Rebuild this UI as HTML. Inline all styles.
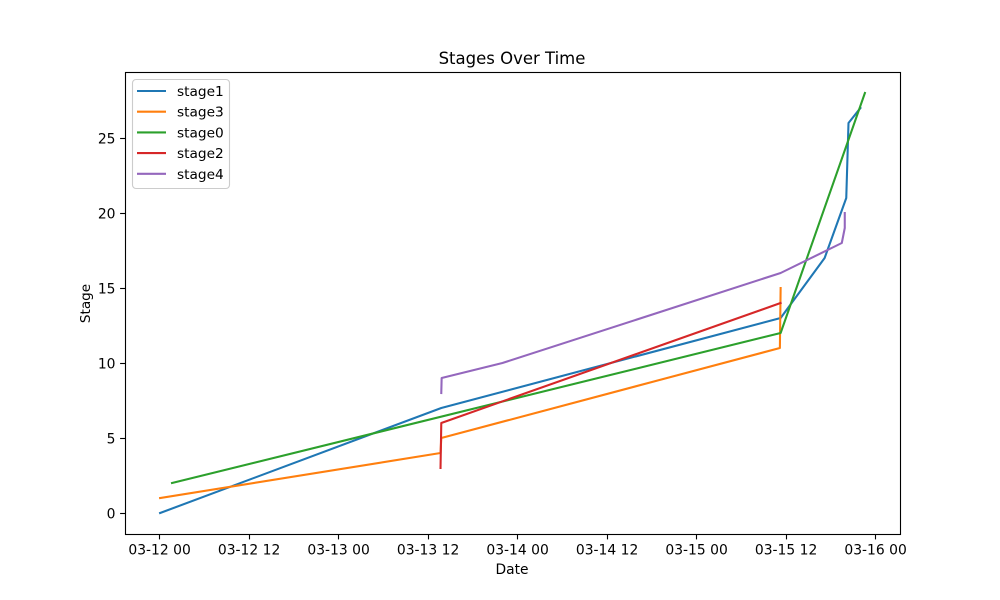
<!DOCTYPE html>
<html>
<head>
<meta charset="utf-8">
<title>Stages Over Time</title>
<style>
html,body{margin:0;padding:0;background:#fff;}
svg{display:block;}
text{font-family:"DejaVu Sans",sans-serif;fill:#000;}
</style>
</head>
<body>
<svg id="chart" xmlns="http://www.w3.org/2000/svg" width="1000" height="600" viewBox="0 0 1000 600"></svg>
<script>
// Hours since 03-12 00:00 and stage values
const stage1Hours = [0, 37.7, 83.2, 89.1, 92.0, 92.3, 93.9];
const stage1Values = [0, 7, 13, 17, 21, 26, 27];
const stage3Hours = [0, 37.6, 37.7, 83.1, 83.2];
const stage3Values = [1, 4, 5, 11, 15];
const stage0Hours = [1.6, 83.2, 94.5];
const stage0Values = [2, 12, 28];
const stage2Hours = [37.6, 37.7, 83.2];
const stage2Values = [3, 6, 14];
const stage4Hours = [37.7, 37.75, 45.9, 83.2, 91.4, 91.8, 91.8];
const stage4Values = [8, 9, 10, 16, 18, 19, 20];

const seriesNames = ['stage1', 'stage3', 'stage0', 'stage2', 'stage4'];
const seriesHours = [stage1Hours, stage3Hours, stage0Hours, stage2Hours, stage4Hours];
const seriesValues = [stage1Values, stage3Values, stage0Values, stage2Values, stage4Values];
const seriesColors = ['#1f77b4', '#ff7f0e', '#2ca02c', '#d62728', '#9467bd'];

const xTickHours = [0, 12, 24, 36, 48, 60, 72, 84, 96];
const xTickLabels = ['03-12 00', '03-12 12', '03-13 00', '03-13 12', '03-14 00', '03-14 12', '03-15 00', '03-15 12', '03-16 00'];
const yTickValues = [0, 5, 10, 15, 20, 25];

const NS = 'http://www.w3.org/2000/svg';
const svg = document.getElementById('chart');
const plot = { left: 125, right: 900, top: 72, bottom: 534 };
const xScale = h => 160.1 + h * 7.4583;
const yScale = v => 513 - v * 15;

function make(tag, attrs, text) {
  const el = document.createElementNS(NS, tag);
  for (const k in attrs) el.setAttribute(k, attrs[k]);
  if (text !== undefined) el.textContent = text;
  svg.appendChild(el);
  return el;
}

// Series lines
seriesNames.forEach((name, i) => {
  const pts = seriesHours[i].map((h, j) => xScale(h).toFixed(2) + ',' + yScale(seriesValues[i][j]).toFixed(2)).join(' ');
  const line = make('polyline', { points: pts, fill: 'none', stroke: seriesColors[i], 'stroke-width': 2.08, 'stroke-linejoin': 'round', 'stroke-linecap': 'square' });
  
  
});

// Axes frame
const frame = make('rect', { x: plot.left + 0.5, y: plot.top + 0.5, width: plot.right - plot.left, height: plot.bottom - plot.top, fill: 'none', stroke: '#000', 'stroke-width': 1.11 });



// X ticks
xTickHours.forEach((h, i) => {
  const x = Math.round(xScale(h)) - 0.5;
  const tick = make('line', { x1: x, x2: x, y1: plot.bottom, y2: plot.bottom + 5.4, stroke: '#000', 'stroke-width': 1.11 });
  
  
  const label = make('text', { x: xScale(h) - 0.5, y: 554.5, 'text-anchor': 'middle', 'font-size': 13.89 }, xTickLabels[i]);
  
  
});

// Y ticks
yTickValues.forEach(v => {
  const y = Math.round(yScale(v)) + 0.5;
  const tick = make('line', { x1: plot.left - 4.9, x2: plot.left, y1: y, y2: y, stroke: '#000', 'stroke-width': 1.11 });
  
  
  const label = make('text', { x: 115.5, y: yScale(v) + 5.3, 'text-anchor': 'end', 'font-size': 13.89 }, String(v));
  
  
});

// Titles
const title = make('text', { x: 512, y: 64, 'text-anchor': 'middle', 'font-size': 16.5 }, 'Stages Over Time');


const xTitle = make('text', { x: 512, y: 574, 'text-anchor': 'middle', 'font-size': 13.8 }, 'Date');


const yTitle = make('text', { x: 0, y: 0, transform: 'translate(90,303.5) rotate(-90)', 'text-anchor': 'middle', 'font-size': 13.6 }, 'Stage');



// Legend
const legendBox = make('rect', { x: 132.5, y: 79.5, width: 97, height: 109, rx: 3.5, ry: 3.5, fill: '#fff', 'fill-opacity': 0.8, stroke: '#ccc', 'stroke-width': 1.11 });


seriesNames.forEach((name, i) => {
  const y = 91 + i * 20.7;
  const handle = make('line', { x1: 137, x2: 166, y1: y, y2: y, stroke: seriesColors[i], 'stroke-width': 2.08 });
  
  
  const label = make('text', { x: 177, y: y + 5, 'font-size': 13.7 }, name);
  
  
});
</script>
</body>
</html>
